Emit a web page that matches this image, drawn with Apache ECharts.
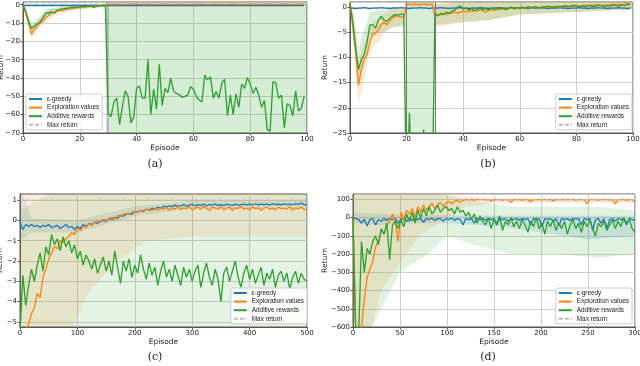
<!DOCTYPE html>
<html><head><meta charset="utf-8">
<script src="https://cdn.jsdelivr.net/npm/echarts@6/dist/echarts.min.js"></script>
<style>html,body{margin:0;padding:0;background:#fff}#c{width:640px;height:366px}</style>
</head><body><div id="c"></div>
<script>
// ---------- names ----------
const seriesNames = ['ε-greedy', 'Exploration values', 'Additive rewards', 'Max return'];
const captions = ['(a)', '(b)', '(c)', '(d)'];
const yTicksC = [-5, -4, -3, -2, -1, 0, 1];
const maxReturn = [1, 1, 1, 100];

// ---------- panel (a): episodes 0..99 ----------
const aBlue = [-0.3,-0.5,-0.4,-0.5,-0.4,-0.3,-0.5,-0.4,-0.4,-0.5,-0.3,-0.4,-0.5,-0.4,-0.3,-0.4,-0.5,-0.4,-0.4,-0.3,
 -0.5,-0.4,-0.4,-0.5,-0.3,-0.4,-0.4,-0.5,-0.4,-0.3,-0.4,-0.5,-0.4,-0.4,-0.3,-0.5,-0.4,-0.4,-0.5,-0.3,
 -0.4,-0.4,-0.5,-0.4,-0.3,-0.4,-0.5,-0.4,-0.4,-0.3,-0.5,-0.4,-0.4,-0.5,-0.3,-0.4,-0.4,-0.5,-0.4,-0.3,
 -0.4,-0.5,-0.4,-0.4,-0.3,-0.5,-0.4,-0.4,-0.5,-0.3,-0.4,-0.4,-0.5,-0.4,-0.3,-0.4,-0.5,-0.4,-0.4,-0.3,
 -0.5,-0.4,-0.4,-0.5,-0.3,-0.4,-0.4,-0.5,-0.4,-0.3,-0.4,-0.5,-0.4,-0.4,-0.3,-0.5,-0.4,-0.4,-0.5,-0.4];
const aOrange = [0,-5,-10,-16,-13.5,-11.5,-10,-9,-7,-6,-4,-4.5,-3.5,-3,-3.2,-2.5,-2.2,-2,-1.8,-1.6,
 -1.5,-1.3,-1.2,-1,-0.9,-0.8,-0.6,-0.5,-0.4,-0.3,0.3,0.3,0.4,0.3,0.3,0.2,0.3,0.3,0.4,0.3,
 0.3,0.2,0.3,0.3,0.4,0.3,0.3,0.2,0.3,0.3,0.4,0.3,0.3,0.2,0.3,0.3,0.4,0.3,0.3,0.2,
 0.3,0.3,0.4,0.3,0.3,0.2,0.3,0.3,0.4,0.3,0.3,0.2,0.3,0.3,0.4,0.3,0.3,0.2,0.3,0.3,
 0.4,0.3,0.3,0.2,0.3,0.3,0.4,0.3,0.3,0.2,0.3,0.3,0.4,0.3,0.3,0.2,0.3,0.3,0.4,0.3];
const aGreen = [0,-4,-9,-13,-11.5,-10.5,-9.5,-7,-4.5,-4.5,-4,-4.5,-3,-2.5,-2.2,-2,-1.8,-1.5,-1.5,-1.3,
 -1.2,-1,-1,-0.8,-0.7,-1.5,-0.8,-0.6,-0.5,-0.5,-59,-61,-53,-51,-65.5,-55.6,-47,-50,-64.6,-61,
 -45.6,-44.4,-51,-51,-30,-60,-46,-57,-32.5,-55,-45.6,-48,-40,-47,-48.4,-49,-50.5,-50,-49.3,-44.7,
 -46,-50,-52,-53,-38.4,-41,-39.3,-51,-47.4,-51,-42.6,-40.8,-60.6,-49.3,-60,-48.7,-56,-43.3,-45.6,-39.7,
 -43.3,-48.4,-45,-49.3,-56,-52.3,-68,-69,-42,-42.6,-51,-49.3,-67.3,-54,-55,-60.6,-47,-58,-56.5,-50];
// bands: [episode, lower, upper]
const aOrangeBand = [[0,-0.5,0.5],[1,-7,-2],[2,-14,-7],[3,-18.5,-14],[4,-16,-11],[5,-14,-9],[6,-12,-7.5],[8,-9,-4.5],[10,-6.5,-2],
 [12,-5,-2],[15,-3.8,-1.2],[20,-2.6,-0.4],[25,-1.6,0],[29,-1,0.2],[30,0,0.6],[100,0,0.6]];
const aGreenBand = [[0,-0.5,0.5],[1,-6,-1.5],[2,-12,-6],[3,-15,-11],[4,-13.5,-9],[5,-12.5,-8],[6,-11,-6.5],[8,-6.5,-2.5],[10,-5.5,-2],
 [12,-4,-1.5],[15,-3,-0.8],[20,-2,-0.2],[25,-1.8,0],[29,-1.2,0.2],[29.9,-80,5],[100,-80,5]];

// ---------- panel (b): episodes 0..99 ----------
const bBlue = [-0.2,-0.2,-0.3,-0.2,-0.2,-0.1,-0.2,-0.3,-0.2,-0.2,-0.2,-0.1,-0.2,-0.2,-0.3,-0.2,-0.2,-0.2,-0.1,-0.2,
 -0.2,-0.3,-0.2,-0.2,-0.2,-0.1,-0.2,-0.2,-0.3,-0.2,-0.2,-0.2,-0.1,-0.2,-0.2,-0.3,-0.2,-0.2,-0.2,-0.1,
 -0.2,-0.2,-0.3,-0.2,-0.2,-0.2,-0.1,-0.2,-0.2,-0.3,-0.2,-0.2,-0.2,-0.1,-0.2,-0.2,-0.3,-0.2,-0.2,-0.2,
 -0.1,-0.2,-0.2,-0.3,-0.2,-0.2,-0.2,-0.1,-0.2,-0.2,-0.3,-0.2,-0.2,-0.2,-0.1,-0.2,-0.2,-0.3,-0.2,-0.2,
 -0.2,-0.1,-0.2,-0.2,-0.3,-0.2,-0.2,-0.2,-0.1,-0.2,-0.2,-0.3,-0.2,-0.2,-0.2,-0.1,-0.2,-0.2,-0.3,-0.2];
const bOrange = [0.8,-4,-9,-15.5,-12.5,-10.5,-9.5,-7,-5.3,-5.2,-4.5,-3.5,-3,-3.5,-2.8,-2.2,-1.8,-1.8,-2,-2,
 0.5,0.6,0.5,0.6,0.5,0.5,0.6,0.5,0.5,0.6,-1.8,-1.5,-1.6,-1.3,-1.5,-1.1,-1.3,-0.9,-1.2,-1,
 -0.8,-1,-0.7,-0.9,-0.6,-0.8,-0.5,-0.7,-1,-0.6,-0.5,-0.7,-0.4,-0.5,-0.3,-0.5,-0.3,-0.2,-0.4,-0.2,
 -0.3,-0.1,-0.2,0,-0.2,-0.1,0,-0.1,0.1,0,0.1,0,0.1,0.2,0,0.1,0.2,0.1,0.3,0.2,
 0.3,0.2,0.3,0.4,0.3,0.4,0.3,0.5,0.4,0.3,0.5,0.4,0.5,0.6,0.5,0.6,0.5,0.7,0.8,0.6];
const bGreen = [0.8,-3,-8,-12.4,-10.5,-9.5,-7,-3.6,-3.5,-4.2,-2.6,-1.8,-2.6,-2.8,-2.3,-1.8,-1.5,-1.6,-1.4,-1.4,
 -40,-21,-40,-40,-40,-40,-24.3,-40,-40,-40,-1.3,-1.8,-1.2,-1.5,-1,-1.3,-0.8,-0.6,0,0.2,
 -0.4,-0.2,-0.6,-0.3,-0.8,-0.4,-0.2,-0.5,-0.3,-0.6,-0.2,-0.4,-0.1,-0.3,-0.2,-0.5,-0.2,0,-0.3,-0.1,
 -0.2,0,-0.2,0.1,-0.1,0.1,0,-0.2,0.1,0,0.2,0,0.1,-0.1,0.2,0.1,0.3,0.1,0.2,0.4,
 0.2,0.1,0.3,0,0.2,0.3,0.1,0.2,0.4,0.3,0.1,0.3,0.2,0.4,0.3,0.2,0.4,0.3,0.5,0.5];
const bOrangeBand = [[0,0,1],[1,-6,-1],[2,-13,-6],[3,-19,-12],[4,-17,-9],[5,-14,-7],[6,-12,-6],[7,-9,-4],[8,-8,-3],[10,-7,-2.5],
 [12,-5,-1.5],[15,-4,-0.5],[19,-4,-0.5],[20,0,1],[29,0,1],[30,-4,0.5],[35,-3.5,1],[40,-3,1],[50,-2.5,1],[60,-1.5,1],[80,-1,1],[100,-0.5,1.2]];
const bGreenBand = [[0,0,1],[1,-5,-0.5],[2,-10,-4],[3,-15,-9],[4,-13,-6],[5,-10,-4.5],[6,-9,-3],[7,-6,-1],[8,-6,-1],[10,-5,-0.5],
 [12,-5,-0.5],[15,-4,0],[19,-3.5,0],[19.9,-30,1.5],[29.9,-30,1.5],[30,-3.5,0.5],[40,-3,1],[50,-2.5,1],[60,-1.5,1],[80,-1,1],[100,-0.5,1]];

// ---------- panel (c): sampled every 5 episodes, 0..500 ----------
const cBlue = [-0.1,-0.45,-0.2,-0.3,-0.2,-0.3,-0.25,-0.35,-0.25,-0.3,-0.2,-0.35,-0.3,-0.25,-0.4,-0.3,-0.2,-0.35,-0.3,-0.45,
 -0.3,-0.4,-0.2,-0.3,-0.15,-0.2,-0.1,-0.15,-0.05,0,-0.05,0.1,0.05,0.15,0.1,0.25,0.2,0.3,0.35,0.3,
 0.45,0.4,0.5,0.45,0.55,0.5,0.6,0.55,0.65,0.6,0.7,0.65,0.72,0.68,0.75,0.7,0.72,0.78,0.7,0.75,
 0.8,0.72,0.78,0.74,0.8,0.72,0.78,0.75,0.8,0.74,0.78,0.73,0.8,0.76,0.74,0.8,0.75,0.78,0.8,0.76,
 0.8,0.77,0.82,0.76,0.8,0.78,0.8,0.76,0.82,0.78,0.8,0.76,0.82,0.78,0.8,0.77,0.83,0.79,0.85,0.78,0.75];
const cOrange = [-5.5,-5.5,-5.4,-5.1,-4.6,-4.3,-3.6,-3.8,-2.8,-2.4,-1.9,-1.6,-1.3,-1.4,-1,-1.1,-0.9,-0.8,-0.6,-0.7,
 -0.4,-0.5,-0.3,-0.35,-0.15,-0.25,-0.1,0,-0.05,0.05,0,0.1,0.15,0.05,0.25,0.2,0.3,0.35,0.3,0.4,
 0.45,0.4,0.5,0.42,0.55,0.5,0.48,0.6,0.5,0.62,0.55,0.65,0.5,0.6,0.55,0.68,0.52,0.62,0.58,0.7,
 0.5,0.6,0.65,0.55,0.7,0.58,0.5,0.65,0.6,0.55,0.68,0.52,0.6,0.65,0.5,0.62,0.58,0.7,0.55,0.6,
 0.52,0.65,0.58,0.62,0.5,0.6,0.66,0.55,0.6,0.52,0.65,0.58,0.6,0.55,0.68,0.5,0.62,0.58,0.65,0.55,0.5];
const cGreen = [-5.5,-2.7,-4.2,-3.2,-2.4,-3,-2.2,-1.6,-2.5,-1.3,-1.7,-0.7,-1.2,-0.9,-1.5,-0.8,-1.3,-1,-1.6,-1.2,
 -1.9,-1.5,-2.2,-1.7,-2,-2.4,-1.9,-2.6,-2.2,-1.8,-2.5,-2,-2.7,-1.5,-2.3,-3.1,-2,-2.5,-1.9,-2.8,
 -2.2,-2.6,-1.7,-2.4,-2.9,-2.1,-2.7,-2.3,-3.2,-2.5,-2,-2.8,-2.4,-3,-2.2,-2.7,-3.2,-2.3,-2.8,-2.4,
 -3,-2.5,-2.2,-3.3,-2.6,-2.1,-2.8,-3.2,-2.4,-2.9,-4,-2.6,-2.3,-3,-2.5,-2,-2.8,-3.3,-2.6,-2.2,
 -2.9,-2.4,-3.1,-2.7,-2.3,-3.2,-2.6,-2.9,-2.4,-3.3,-2.7,-2.5,-3,-2.6,-3.4,-2.8,-2.5,-3.1,-2.6,-2.9,-3];
const cBlueBand = [[0,-1,1.5],[10,-0.8,1],[20,-0.6,0.1],[100,-0.6,0],[200,0.2,0.7],[300,0.6,0.95],[500,0.65,0.95]];
const cOrangeBand = [[0,-6,1.5],[80,-6,1.5],[120,-3.5,1.5],[170,-2,1.5],[220,-1,1.5],[300,-0.8,1.5],[500,-0.8,1.5]];
const cGreenBand = [[0,-6,0.5],[60,-6,1.5],[500,-6,1.5]];

// ---------- panel (d): sampled every 3 episodes, 0..300 ----------
const dBlue = [0,-5,-10,-30,-8,-45,-10,-5,-40,-10,-20,-5,-15,-5,-10,-5,-30,-10,-5,-20,
 -5,-15,-5,-10,-5,-25,-5,-10,-3,-15,-5,-5,-20,-5,-10,-3,-15,-5,-10,-40,
 -5,-10,-5,-30,-5,-10,-5,-15,-5,-10,-5,-40,-5,-10,-5,-20,-5,-10,-5,-15,
 -5,-10,-5,-40,-5,-10,-5,-50,-5,-10,-5,-20,-5,-45,-5,-10,-5,-15,-5,-8,
 -5,-40,-5,-10,-5,-70,-10,-5,-30,-5,-60,-10,-5,-20,-5,-10,-5,-40,-5,-10,-15];
const dOrange = [0,-650,-650,-600,-450,-330,-280,-240,-160,-130,-70,-90,-40,-20,20,-30,-130,30,-10,40,
 20,50,0,60,30,70,40,60,80,50,70,85,60,80,90,75,90,95,85,95,
 100,98,100,95,100,98,100,97,100,90,100,98,100,95,100,98,85,100,98,100,
 95,100,98,88,100,98,100,96,100,98,100,92,100,98,100,96,100,98,100,95,
 100,98,100,75,100,98,100,95,100,98,100,96,100,75,100,98,100,95,100,98,85];
const dGreen = [0,-650,-650,-130,-300,-170,-200,-130,-100,-150,-60,-90,-30,-230,-40,-20,-60,-10,-50,20,
 -20,30,-30,40,0,50,10,60,20,40,70,30,50,60,40,50,20,60,30,40,
 10,30,-10,20,-30,10,-20,-40,0,-60,-10,-30,10,-70,-20,-40,0,-50,-20,-60,
 -10,-40,-80,-20,-50,0,-60,-30,-90,-20,-50,-10,-70,-30,-60,-20,-90,-40,-10,-60,
 -30,-80,-20,-50,-10,-60,-100,-30,-50,-20,-70,-40,-10,-60,-20,-50,0,-30,-10,-60,-80];
const dBlueBand = [[0,-30,30],[30,-40,20],[60,-30,15],[100,-30,15],[150,-45,10],[200,-80,10],[250,-120,10],[300,-100,10]];
const dOrangeBand = [[0,-700,135],[10,-700,135],[20,-600,135],[30,-400,135],[50,-250,135],[70,-100,135],[100,0,130],[120,60,118],[150,80,105],[300,80,105]];
const dGreenBand = [[0,-700,135],[10,-700,135],[30,-500,135],[50,-300,135],[80,-200,135],[100,-100,125],[130,-150,90],[170,-200,60],[220,-200,60],[260,-220,60],[300,-200,40]];

// ---------- build ----------
const C = {blue:'#1f77b4', orange:'#ff7f0e', green:'#2ca02c', max:'#bbbbbb'};
const ALPHA = [0.2, 0.18, 0.13, 0.14];
const rgba = (rgb, a) => 'rgba(' + rgb + ',' + a + ')';
const RGB = {blue:'31,119,180', orange:'255,127,14', green:'44,160,44'};
function pairs(arr, step){ return arr.map((v,i)=>[i*step, v]); }
const minus = v => String(v).replace('-', '\u2212');
const FONT = 'DejaVu Sans';

const grids = [
  {left:23, top:2, width:284, height:131},
  {left:350, top:2, width:283, height:131},
  {left:20, top:194, width:287, height:133},
  {left:353, top:194, width:282, height:133}
];
const xCfg = [
  {min:0,max:100,interval:20},{min:0,max:100,interval:20},
  {min:0,max:500,interval:100},{min:0,max:300,interval:50}
];
const yCfg = [
  {min:-70,max:1.5,interval:10,gap:18},
  {min:-25,max:1,interval:5,gap:21},
  {min:-5.25,max:1.3,custom:yTicksC,gap:15.5},
  {min:-600,max:130,interval:100,gap:24}
];
const data = [
  {blue:pairs(aBlue,1), orange:pairs(aOrange,1), green:pairs(aGreen,1), bands:{orange:aOrangeBand, green:aGreenBand}},
  {blue:pairs(bBlue,1), orange:pairs(bOrange,1), green:pairs(bGreen,1), bands:{orange:bOrangeBand, green:bGreenBand}},
  {blue:pairs(cBlue,5), orange:pairs(cOrange,5), green:pairs(cGreen,5), bands:{blue:cBlueBand, orange:cOrangeBand, green:cGreenBand}},
  {blue:pairs(dBlue,3), orange:pairs(dOrange,3), green:pairs(dGreen,3), bands:{blue:dBlueBand, orange:dOrangeBand, green:dGreenBand}}
];

function band(triples, color, gi){
  return {
    type:'custom', xAxisIndex:gi, yAxisIndex:gi, silent:true, clip:true, z:1,
    data: triples, encode:{x:0, y:[1,2]},
    renderItem: function(params, api){
      if (params.dataIndex !== 0) return null;
      const up = triples.map(t => api.coord([t[0], t[2]]));
      const lo = triples.map(t => api.coord([t[0], t[1]])).reverse();
      return {type:'polygon', shape:{points: up.concat(lo)}, style:{fill: color}};
    }
  };
}

const option = {
  animation:false,
  backgroundColor:'#fff',
  textStyle:{fontFamily:FONT},
  grid: grids.map(g => Object.assign({show:true, borderColor:'#555', borderWidth:1, containLabel:false, outerBoundsMode:'none'}, g)),
  xAxis: xCfg.map((c,i)=>({
    type:'value', gridIndex:i, min:c.min, max:c.max, interval:c.interval,
    name:'Episode', nameLocation:'middle', nameGap:11, nameMoveOverlap:false,
    nameTextStyle:{fontSize:7.5, color:'#222', fontFamily:FONT},
    axisLine:{show:true, onZero:false, lineStyle:{color:'#555'}},
    axisTick:{show:true, length:2.5, lineStyle:{color:'#555'}},
    axisLabel:{fontSize:7, color:'#222', margin:3, formatter:minus, fontFamily:FONT},
    splitLine:{show:true, lineStyle:{color:'#d0d0d0', width:1}}
  })),
  yAxis: yCfg.map((c,i)=>{
    const ax = {
      type:'value', gridIndex:i, min:c.min, max:c.max,
      name:'Return', nameLocation:'middle', nameGap:c.gap, nameRotate:90, nameMoveOverlap:false,
      nameTextStyle:{fontSize:7.5, color:'#222', fontFamily:FONT},
      axisLine:{show:true, onZero:false, lineStyle:{color:'#555'}},
      axisTick:{show:true, length:2.5, lineStyle:{color:'#555'}},
      axisLabel:{fontSize:7, color:'#222', margin:3, formatter:minus, fontFamily:FONT},
      splitLine:{show:true, lineStyle:{color:'#d0d0d0', width:1}}
    };
    if (c.custom){ ax.axisTick.customValues = c.custom; ax.axisLabel.customValues = c.custom; }
    else ax.interval = c.interval;
    return ax;
  }),
  legend: [
    {left:26, top:94},
    {right:8, top:94},
    {right:333, top:288},
    {right:8, top:288}
  ].map(p => Object.assign({
    orient:'vertical', data:seriesNames, itemWidth:13, itemHeight:6, itemGap:2.6,
    padding:[2,3,2,2], backgroundColor:'rgba(255,255,255,0.85)', borderColor:'#ccc', borderWidth:1, borderRadius:2,
    itemStyle:{opacity:0},
    textStyle:{fontSize:6.4, color:'#222', fontFamily:'Liberation Sans'}, selectedMode:false
  }, p)),
  graphic: [
    {type:'text', x:155, y:159, style:{text:captions[0], font:'11px "DejaVu Serif"', fill:'#222', textAlign:'center'}},
    {type:'text', x:488, y:159, style:{text:captions[1], font:'11px "DejaVu Serif"', fill:'#222', textAlign:'center'}},
    {type:'text', x:155, y:352, style:{text:captions[2], font:'11px "DejaVu Serif"', fill:'#222', textAlign:'center'}},
    {type:'text', x:488, y:352, style:{text:captions[3], font:'11px "DejaVu Serif"', fill:'#222', textAlign:'center'}}
  ],
  series: []
};

data.forEach((d,i)=>{
  const a = ALPHA[i];
  if (d.bands.blue) option.series.push(band(d.bands.blue, rgba(RGB.blue, a), i));
  option.series.push(band(d.bands.orange, rgba(RGB.orange, a), i));
  option.series.push(band(d.bands.green, rgba(RGB.green, a), i));
  const line = (name, arr, color) => ({
    type:'line', name, xAxisIndex:i, yAxisIndex:i, data:arr, symbol:'none', clip:true, z:3,
    lineStyle:{color, width:1.3}, itemStyle:{color}
  });
  const lb = line(seriesNames[0], d.blue, C.blue);
  const lo = line(seriesNames[1], d.orange, C.orange);
  const lg = line(seriesNames[2], d.green, C.green);
  if (i === 0) lg.markArea = {silent:true, itemStyle:{color:'rgba(110,110,110,0.45)'}, data:[[{xAxis:29.4},{xAxis:30.2}]]};
  if (i === 1) lg.markLine = {silent:true, symbol:'none', label:{show:false}, lineStyle:{color:'#777', width:1, type:'solid'}, data:[{xAxis:20},{xAxis:30}]};
  option.series.push(lb, lo, lg);
  option.series.push({
    type:'line', name:seriesNames[3], xAxisIndex:i, yAxisIndex:i, symbol:'none', z:4,
    data:[[0, maxReturn[i]], [xCfg[i].max, maxReturn[i]]],
    lineStyle:{color:C.max, width:1, type:[4,2]}, itemStyle:{color:C.max}
  });
});

const chart = echarts.init(document.getElementById('c'), null, {renderer:'canvas'});
chart.setOption(option);
</script>
</body></html>
